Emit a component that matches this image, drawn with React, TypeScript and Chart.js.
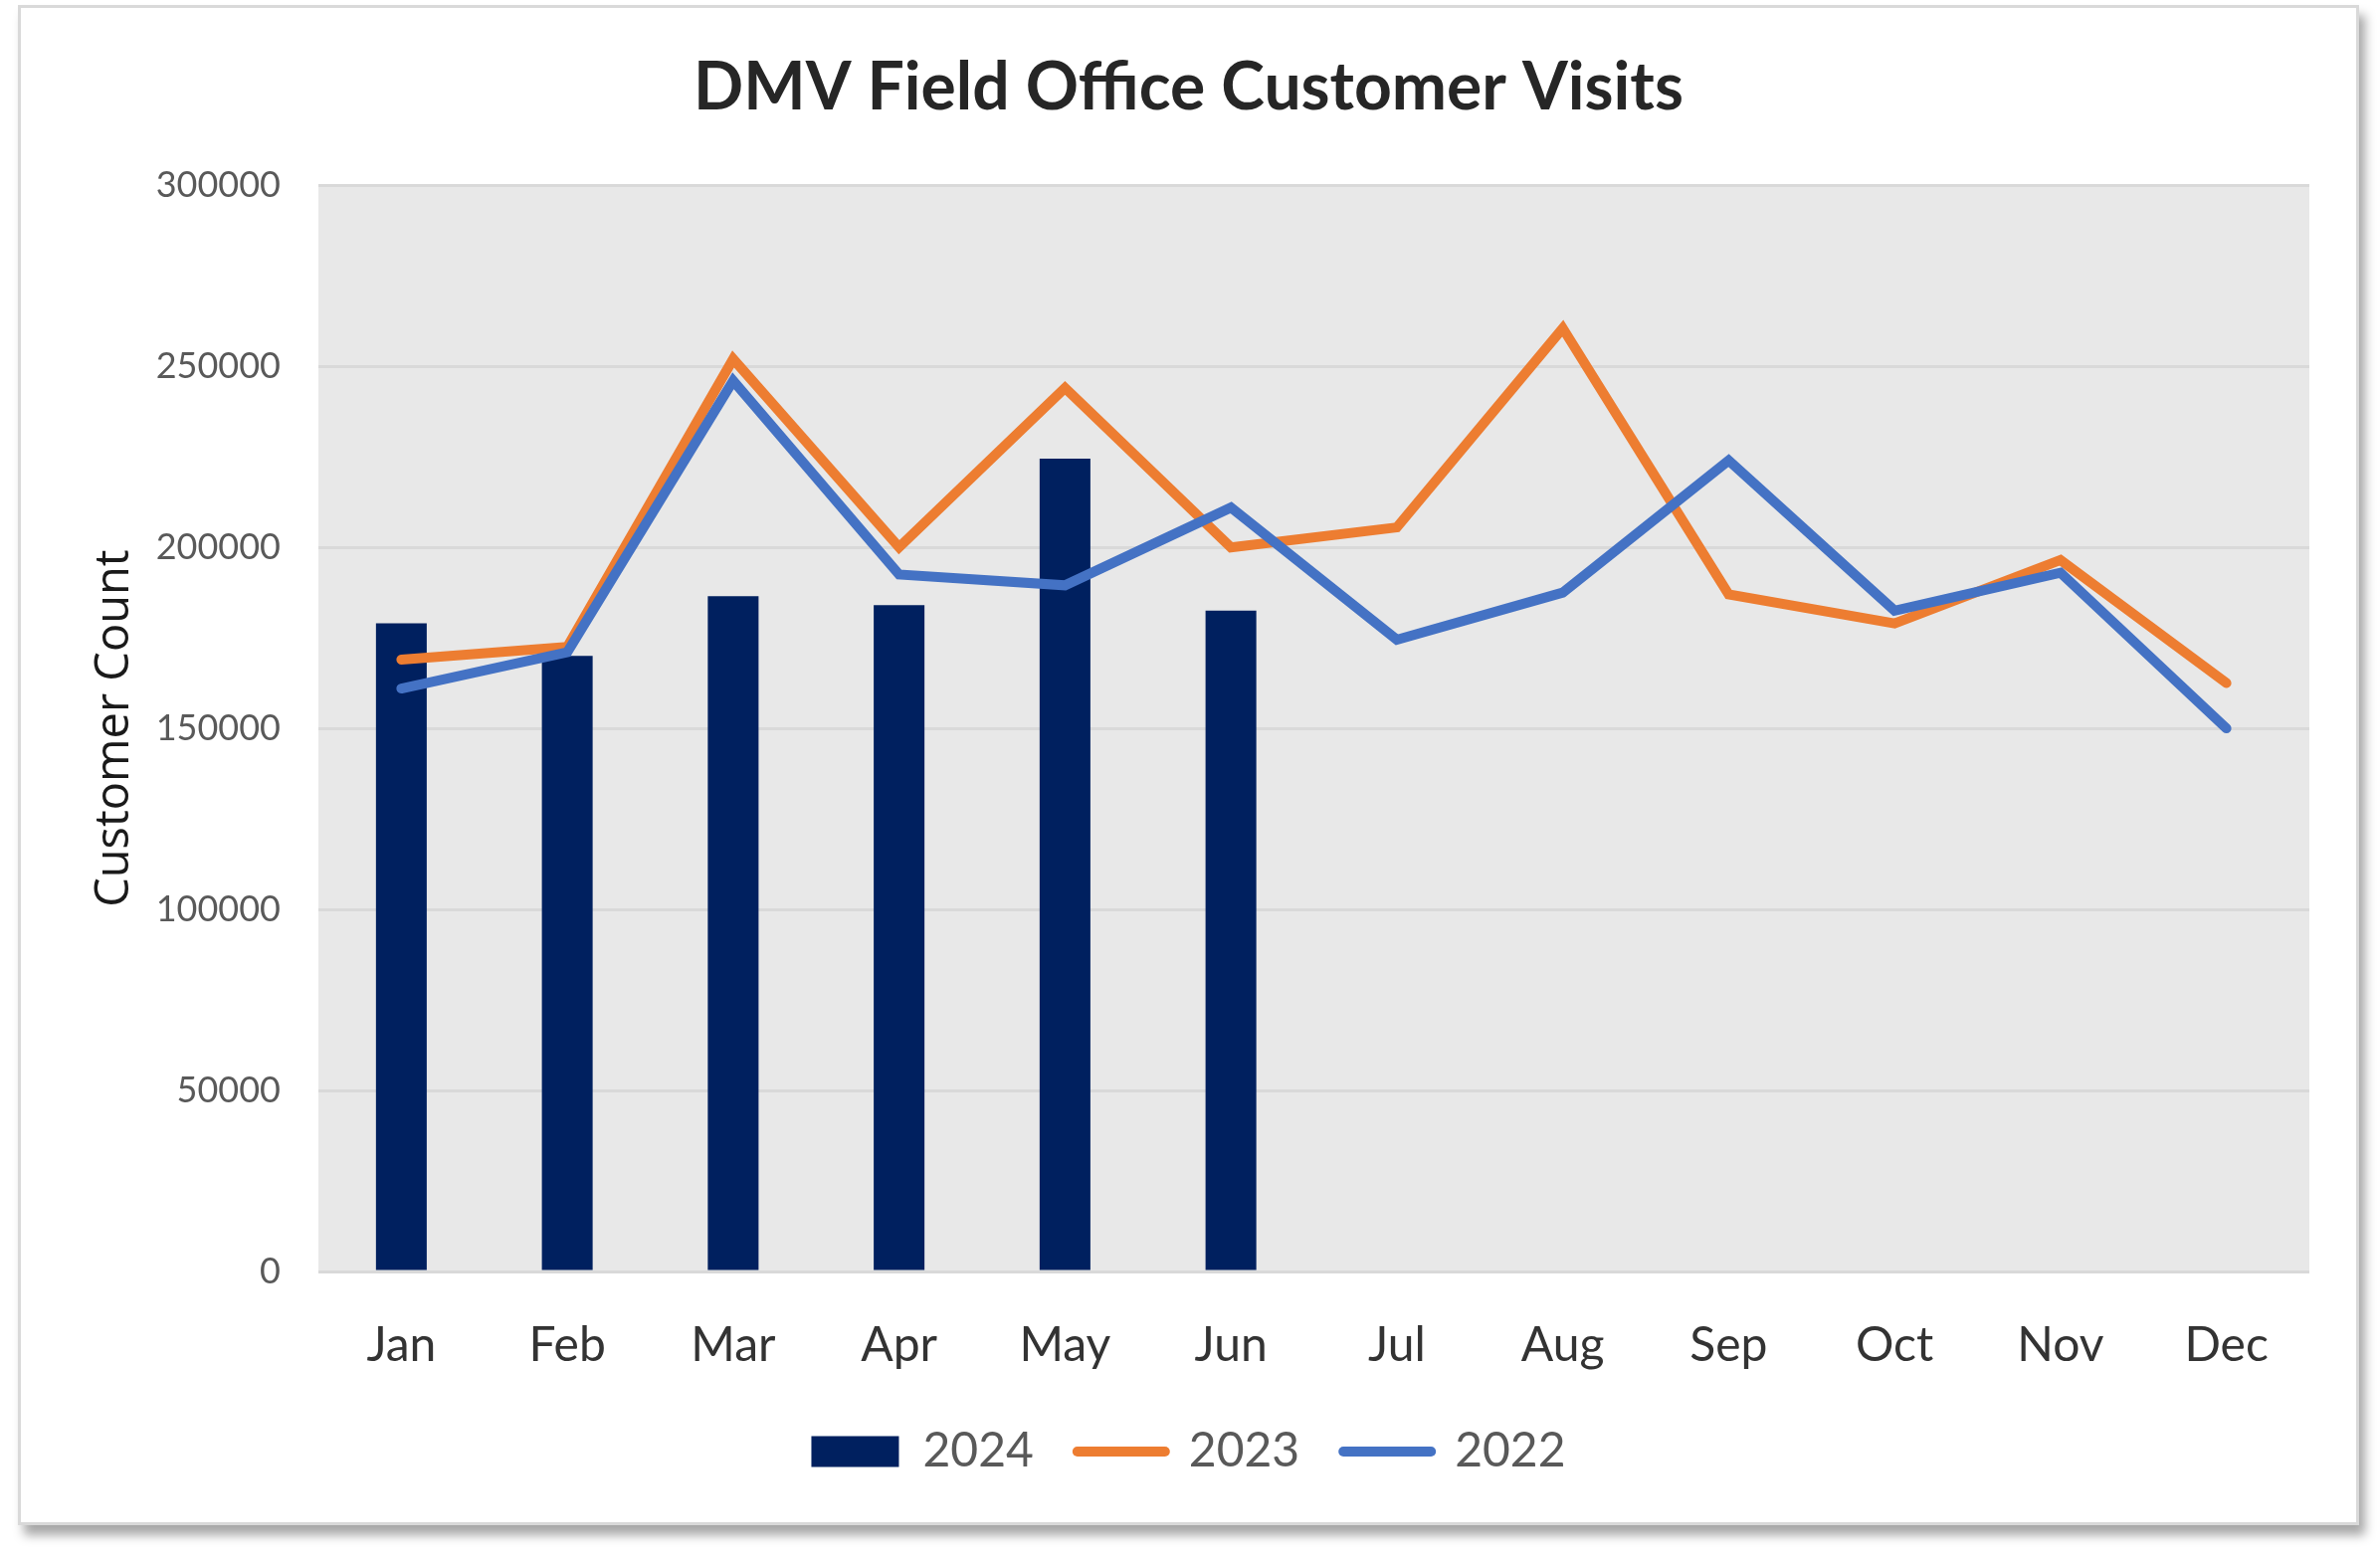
import { useEffect, useRef } from 'react'
import { Chart, registerables } from 'chart.js'

Chart.register(...registerables)

// data
const months = ['Jan', 'Feb', 'Mar', 'Apr', 'May', 'Jun', 'Jul', 'Aug', 'Sep', 'Oct', 'Nov', 'Dec']
const visits2024 = [179000, 170000, 186500, 184000, 224500, 182500]
const visits2023 = [169000, 172500, 252000, 200000, 244000, 200000, 205500, 260500, 187000, 179000, 196500, 162500]
const visits2022 = [161000, 171000, 246000, 192500, 189500, 211000, 174500, 187500, 224000, 182500, 193000, 150000]
const yMin = 0
const yMax = 300000
const yStep = 50000

const NAVY = '#00205f'
const ORANGE = '#ed7d31'
const BLUE = '#4472c4'

// grey plot area behind the grid
const plotBackground = {
  id: 'plotBackground',
  beforeDraw(chart: Chart) {
    const { ctx, chartArea } = chart
    ctx.save()
    ctx.fillStyle = '#e8e8e8'
    ctx.fillRect(chartArea.left, chartArea.top, chartArea.width, chartArea.height)
    ctx.restore()
  },
}

function VisitsChart() {
  const canvasRef = useRef<HTMLCanvasElement>(null)
  const chartRef = useRef<Chart | null>(null)

  useEffect(() => {
    if (!canvasRef.current) return
    const ctx = canvasRef.current.getContext('2d')
    if (!ctx) return

    chartRef.current = new Chart(ctx, {
      type: 'bar',
      data: {
        labels: months,
        datasets: [
          {
            type: 'bar',
            label: '2024',
            data: visits2024,
            backgroundColor: NAVY,
            borderWidth: 0,
            barPercentage: 0.306,
            categoryPercentage: 1,
            order: 2,
          },
          {
            type: 'line',
            label: '2023',
            data: visits2023,
            borderColor: ORANGE,
            backgroundColor: ORANGE,
            borderWidth: 10,
            borderCapStyle: 'round',
            pointRadius: 0,
            tension: 0,
            order: 1,
          },
          {
            type: 'line',
            label: '2022',
            data: visits2022,
            borderColor: BLUE,
            backgroundColor: BLUE,
            borderWidth: 10,
            borderCapStyle: 'round',
            pointRadius: 0,
            tension: 0,
            order: 0,
          },
        ],
      } as any,
      options: {
        responsive: true,
        maintainAspectRatio: false,
        animation: false,
        events: [],
        layout: {
          padding: { left: 47, right: 47, top: 0, bottom: 37 },
        },
        plugins: {
          title: {
            display: true,
            text: 'DMV Field Office Customer Visits',
            color: '#262626',
            font: { family: 'Lato', size: 66, weight: 'bold' },
            padding: { top: 41, bottom: 58 },
          },
          legend: {
            position: 'bottom',
            labels: {
              usePointStyle: true,
              pointStyleWidth: 88,
              boxHeight: 31,
              padding: 44,
              color: '#595959',
              font: { family: 'Lato', size: 48 },
              generateLabels: (chart: Chart) =>
                chart.data.datasets.map((ds: any, i: number) => ({
                  text: ds.label,
                  datasetIndex: i,
                  hidden: false,
                  fillStyle: i === 0 ? NAVY : ds.borderColor,
                  strokeStyle: i === 0 ? NAVY : ds.borderColor,
                  lineWidth: i === 0 ? 0 : 10,
                  lineCap: 'round',
                  pointStyle: i === 0 ? 'rect' : 'line',
                  fontColor: '#595959',
                })),
            },
          },
          tooltip: { enabled: false },
        },
        scales: {
          x: {
            grid: { display: false },
            border: { display: false },
            ticks: {
              color: '#333333',
              font: { family: 'Lato', size: 48 },
              padding: 38,
              maxRotation: 0,
              autoSkip: false,
            },
            afterFit: (scale: any) => {
              scale.height = 113
            },
          },
          y: {
            min: yMin,
            max: yMax,
            border: { display: false },
            grid: { color: '#d9d9d9', lineWidth: 3, drawTicks: false },
            ticks: {
              stepSize: yStep,
              color: '#595959',
              font: { family: 'Lato', size: 36 },
              padding: 38,
              callback: (v: any) => String(v),
            },
            title: {
              display: true,
              text: 'Customer Count',
              color: '#1a1a1a',
              font: { family: 'Open Sans', size: 47 },
              padding: { top: 19, bottom: 0 },
            },
            afterFit: (scale: any) => {
              scale.width = 252
            },
          },
        },
      } as any,
      plugins: [plotBackground],
    })

    return () => {
      if (chartRef.current) {
        chartRef.current.destroy()
        chartRef.current = null
      }
    }
  }, [])

  return (
    <div style={{ position: 'relative', width: '2347px', height: '1522px' }}>
      <canvas ref={canvasRef} />
    </div>
  )
}

export default function App() {
  return (
    <div style={{ position: 'absolute', left: 0, top: 0, width: '2392px', height: '1567px', background: '#ffffff' }}>
      <div
        style={{
          position: 'absolute',
          left: '18px',
          top: '5px',
          width: '2353px',
          height: '1528px',
          boxSizing: 'border-box',
          border: '3px solid #d9d9d9',
          background: '#ffffff',
          boxShadow: '6px 10px 10px rgba(0, 0, 0, 0.35)',
        }}
      >
        <VisitsChart />
      </div>
    </div>
  )
}
